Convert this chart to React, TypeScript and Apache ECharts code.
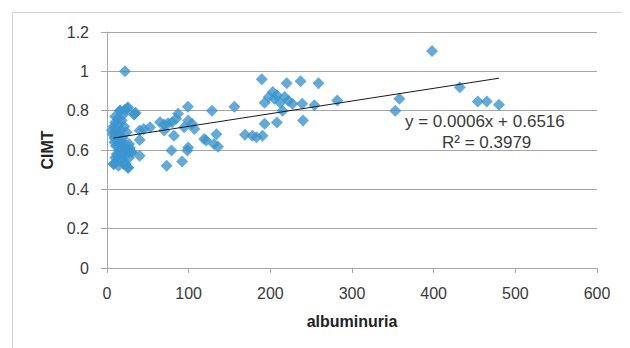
import React, { useEffect, useRef } from "react";
import * as echarts from "echarts";

const albuminuria: number[] = [
  22, 398, 432, 353, 358, 454, 465, 480, 282, 189.5, 220, 237, 259, 203, 208, 198, 193, 217.5, 222, 227, 239, 254, 215, 208, 240, 193,
  169, 178, 183, 190.5, 156, 128.5, 99, 134, 131, 136, 119, 121.5, 99.4, 104, 107, 94.5, 99.4, 98.4, 92, 73, 79, 82, 87, 84.7, 79.7, 74.8,
  65, 70, 70, 52.7, 45, 40, 40, 40, 34, 25.6, 22, 15.7, 30.5, 25.6, 20.7, 8.4,
  6, 7, 8, 9, 10, 11, 12, 8, 10, 13, 14, 15, 16, 17, 18, 19, 20, 21, 22, 23, 24, 25, 26, 27, 28, 30, 33, 35, 12, 15, 18, 20, 22, 14, 205, 212,
  9, 11, 13, 16, 18, 21, 24, 27, 10, 14, 17, 19,
];
const cimt: number[] = [
  1.0, 1.103, 0.919, 0.8, 0.86, 0.847, 0.847, 0.83, 0.852, 0.96, 0.94, 0.95, 0.94, 0.895, 0.878, 0.87, 0.84, 0.87, 0.85, 0.835, 0.835, 0.827, 0.8, 0.74, 0.75, 0.733,
  0.677, 0.673, 0.665, 0.673, 0.82, 0.8, 0.82, 0.68, 0.63, 0.617, 0.656, 0.648, 0.75, 0.733, 0.707, 0.716, 0.613, 0.597, 0.542, 0.52, 0.597, 0.673, 0.784, 0.759, 0.741, 0.736,
  0.741, 0.73, 0.699, 0.716, 0.707, 0.699, 0.651, 0.571, 0.784, 0.818, 0.805, 0.8, 0.588, 0.511, 0.528, 0.528,
  0.7, 0.68, 0.72, 0.66, 0.74, 0.62, 0.58, 0.53, 0.56, 0.76, 0.64, 0.6, 0.8, 0.7, 0.55, 0.66, 0.78, 0.62, 0.59, 0.53, 0.69, 0.81, 0.51, 0.63, 0.61, 0.59, 0.78, 0.79, 0.68, 0.73, 0.75, 0.64, 0.57, 0.52, 0.86, 0.84,
  0.64, 0.7, 0.57, 0.67, 0.61, 0.72, 0.6, 0.56, 0.77, 0.55, 0.63, 0.58,
];
const trendX: number[] = [8, 480];
const trendY: number[] = [0.661, 0.965];
const equationText = "y = 0.0006x + 0.6516";
const r2Text = "R\u00B2 = 0.3979";

const FONT = "'Liberation Sans', Arial, sans-serif";
const TEXT = "#3a3a3a";

export default function App() {
  const ref = useRef<HTMLDivElement>(null);
  useEffect(() => {
    if (!ref.current) return;
    const chart = echarts.init(ref.current, undefined, { renderer: "svg" });
    const points = albuminuria.map((x, i) => [x, cimt[i]]);
    const trend = trendX.map((x, i) => [x, trendY[i]]);
    chart.setOption({
      animation: false,
      backgroundColor: "#ffffff",
      grid: { left: 107, right: 33, top: 32, bottom: 80 },
      graphic: [
        {
          type: "rect",
          shape: { x: 12.5, y: 12.5, width: 640, height: 360 },
          style: { fill: "none", stroke: "#d4d4d4", lineWidth: 1 },
          silent: true,
        },
        {
          type: "text",
          x: 405,
          y: 121,
          style: { text: equationText, font: `17px ${FONT}`, fill: TEXT, verticalAlign: "middle" },
          z: 10,
        },
        {
          type: "text",
          x: 442,
          y: 142,
          style: { text: r2Text, font: `17px ${FONT}`, fill: TEXT, verticalAlign: "middle" },
          z: 10,
        },
      ],
      xAxis: {
        type: "value",
        min: 0,
        max: 600,
        interval: 100,
        name: "albuminuria",
        nameLocation: "middle",
        nameGap: 45,
        nameTextStyle: { fontFamily: FONT, fontSize: 16, fontWeight: "bold", color: "#222" },
        axisLine: { show: true, lineStyle: { color: "#a6a6a6" } },
        axisTick: { show: true, length: 5, lineStyle: { color: "#a6a6a6" } },
        axisLabel: { fontFamily: FONT, fontSize: 16, color: TEXT, margin: 17 },
        splitLine: { show: false },
      },
      yAxis: {
        type: "value",
        min: 0,
        max: 1.2,
        interval: 0.2,
        name: "CIMT",
        nameLocation: "middle",
        nameGap: 49,
        nameRotate: 90,
        nameTextStyle: { fontFamily: FONT, fontSize: 16, fontWeight: "bold", color: "#222" },
        axisLine: { show: true, lineStyle: { color: "#a6a6a6" } },
        axisTick: { show: true, length: 6, lineStyle: { color: "#a6a6a6" } },
        axisLabel: {
          fontFamily: FONT,
          fontSize: 16,
          color: TEXT,
          margin: 18,
          formatter: (v: number) => String(Math.round(v * 10) / 10),
        },
        splitLine: { show: true, lineStyle: { color: "#a6a6a6", width: 1 } },
      },
      series: [
        {
          type: "scatter",
          data: points,
          symbol: "diamond",
          symbolSize: 12,
          itemStyle: { color: "#3a95d0" },
          z: 2,
        },
        {
          type: "line",
          data: trend,
          symbol: "none",
          lineStyle: { color: "#1a1a1a", width: 1 },
          z: 3,
        },
      ],
    });
    return () => chart.dispose();
  }, []);
  return <div ref={ref} style={{ width: 630, height: 348, marginLeft: -8, marginTop: -8 }} />;
}
